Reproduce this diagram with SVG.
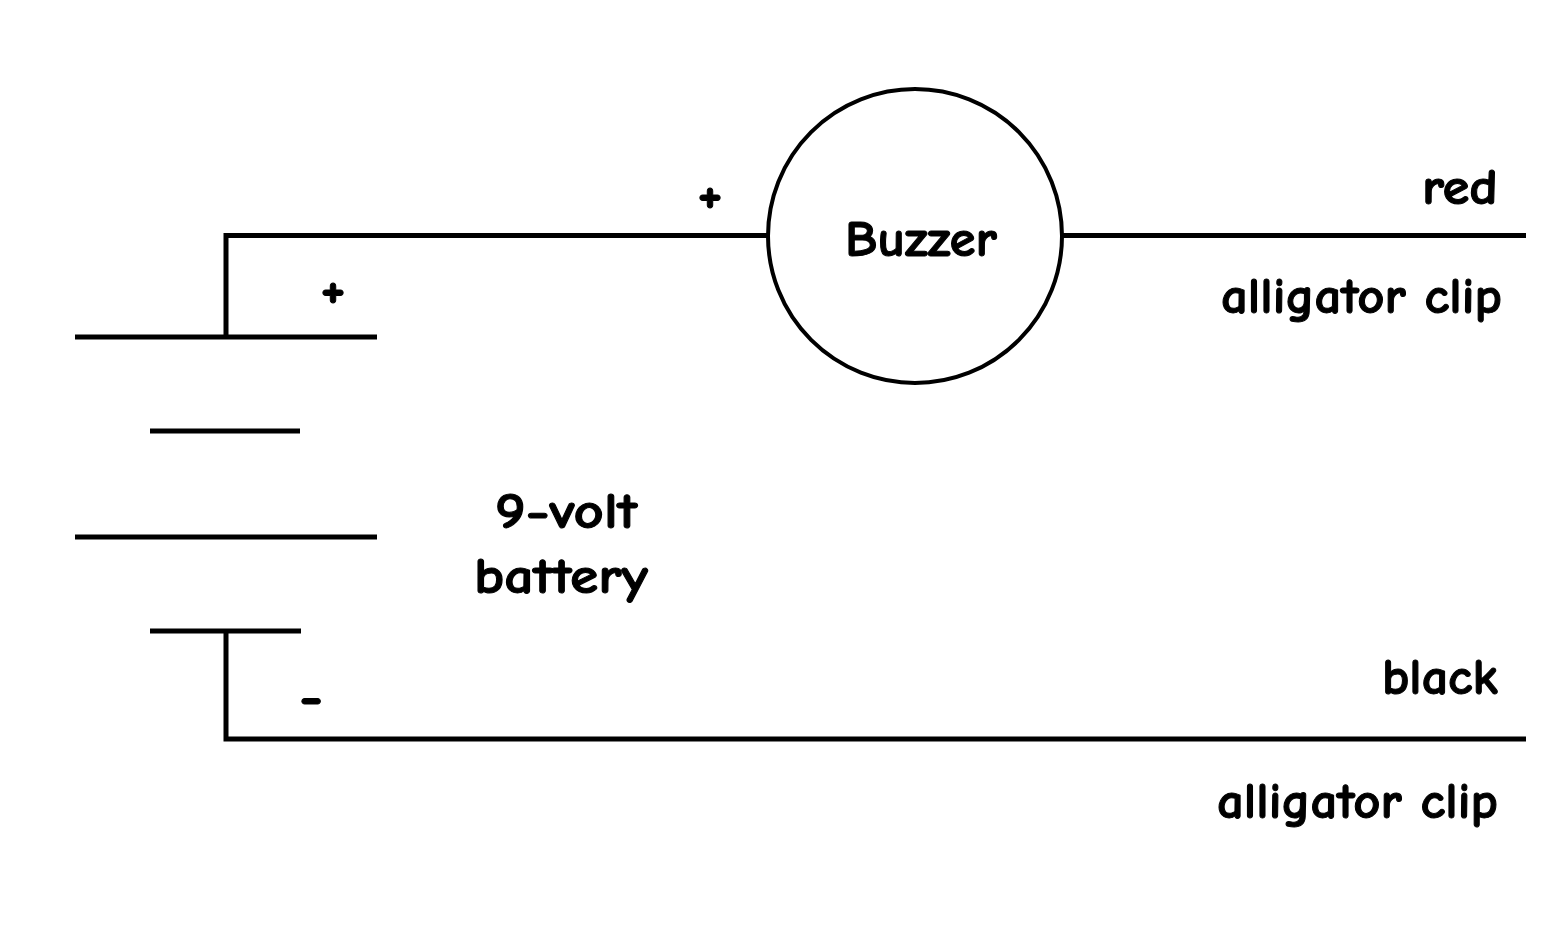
<svg xmlns="http://www.w3.org/2000/svg" width="1560" height="928" viewBox="0 0 1560 928">
<style>
.w{stroke:#000;stroke-width:5;fill:none}
.c{stroke:#000;stroke-width:4;fill:none}
text{font-family:"Comic Neue","Open Sans","DejaVu Sans",sans-serif;font-weight:700;fill:#000;stroke:#000;stroke-linejoin:round}
.l{font-size:50px;stroke-width:1px}
.s{font-size:58px;stroke-width:1px}
</style>
<rect width="1560" height="928" fill="#fff"/>
<g id="connectors">
<path class="w" d="M226 337V235.500H768"/>
<path class="w" d="M1063 235.500H1526"/>
<path class="w" d="M226 631V739H1526"/>
</g>
<g id="buzzer">
<circle class="c" cx="915" cy="236" r="147"/>
<text class="l" x="921" y="256" text-anchor="middle" textLength="152" lengthAdjust="spacingAndGlyphs">Buzzer</text>
</g>
<g id="battery">
<path class="w" d="M75 337H377M150 431H300M75 537H377M150 631H301"/>
<text class="l" x="566" y="528" text-anchor="middle" textLength="142" lengthAdjust="spacingAndGlyphs">9-volt</text>
<text class="l" x="561" y="593" text-anchor="middle" textLength="174" lengthAdjust="spacingAndGlyphs">battery</text>
</g>
<g id="labels">
<text class="s" x="710" y="212" text-anchor="middle">+</text>
<text class="s" x="333" y="307" text-anchor="middle">+</text>
<text class="s" x="311" y="716" text-anchor="middle">-</text>
<text class="l" x="1498" y="204" text-anchor="end" textLength="76" lengthAdjust="spacingAndGlyphs">red</text>
<text class="l" x="1502" y="313" text-anchor="end" textLength="281" lengthAdjust="spacingAndGlyphs">alligator clip</text>
<text class="l" x="1498" y="694" text-anchor="end" textLength="116" lengthAdjust="spacingAndGlyphs">black</text>
<text class="l" x="1498" y="818" text-anchor="end" textLength="281" lengthAdjust="spacingAndGlyphs">alligator clip</text>
</g>
</svg>
